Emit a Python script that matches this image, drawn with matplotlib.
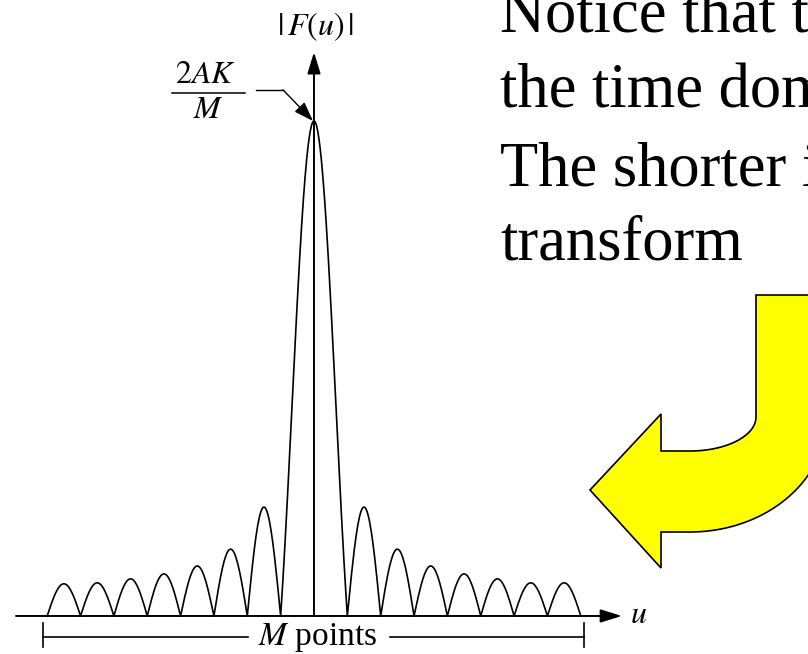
import numpy as np
import matplotlib
matplotlib.use('Agg')
import matplotlib.pyplot as plt
from matplotlib.patches import Polygon

plt.rcParams['mathtext.fontset'] = 'stix'
plt.rcParams['font.family'] = ['Liberation Serif', 'DejaVu Serif']

# |F(u)| heights, as a fraction of the central peak 2AK/M
peak = 1.0
# side lobes, one zero spacing (M/K) wide each
left_lobes = [0.065, 0.067, 0.075, 0.085, 0.101, 0.135, 0.220]   # outer -> centre
right_lobes = [0.220, 0.135, 0.101, 0.085, 0.075, 0.067, 0.067]  # centre -> outer

notes = ["Notice that th",
         "the time dom",
         "The shorter i",
         "transform"]

fig = plt.figure(figsize=(8.08, 6.54), dpi=100)

# decoration layer in pixel units (text + yellow arrow)
deco = fig.add_axes([0, 0, 1, 1])
deco.set_xlim(0, 808)
deco.set_ylim(654, 0)
deco.axis('off')

for line, yb in zip(notes, [32, 107, 185, 260]):
    deco.text(500, yb, line, fontsize=45, va='baseline', ha='left',
              family=['Liberation Serif'], clip_on=True)

th_in = np.linspace(0, np.pi / 2, 30)
th_out = np.linspace(np.pi / 2, 0, 40)
pts = [(756, 295)]
pts += list(zip(690 + 66 * np.cos(th_in), 417 + 34 * np.sin(th_in)))
pts += [(661, 451), (661, 414), (590, 490), (661, 568), (661, 532)]
pts += list(zip(690 + 137 * np.cos(th_out), 417 + 115 * np.sin(th_out)))
pts += [(827, 295)]
deco.add_patch(Polygon(pts, closed=True, facecolor='#FFFF00',
                       edgecolor='black', lw=1.2, clip_on=True))

# plot layer in u units
ax = fig.add_axes([0, 0, 1, 1])
ax.set_xlim(-9.415, 14.813)
ax.set_ylim(-0.0768, 1.2444)
ax.axis('off')
ax.patch.set_alpha(0)

t = np.linspace(0, 1, 40)
xs, ys = [], []
start = -(len(left_lobes) + 1)
for i, h in enumerate(left_lobes):
    xs.append(start + i + t)
    ys.append(h * np.sin(np.pi * t))
um = np.linspace(-1, 1, 121)
xs.append(um)
ys.append(peak * np.sinc(um))
for i, h in enumerate(right_lobes):
    xs.append(1 + i + t)
    ys.append(h * np.sin(np.pi * t))
ax.plot(np.concatenate(xs), np.concatenate(ys), color='black', lw=1.2)

# axes with arrow heads
axis_arrow = dict(arrowstyle='-|>,head_length=1.3,head_width=0.4',
                  mutation_scale=10, lw=1.4, color='black',
                  shrinkA=0, shrinkB=0)
ax.annotate('', xy=(9.235, 0), xytext=(-8.935, 0), arrowprops=axis_arrow)
ax.annotate('', xy=(0, 1.139), xytext=(0, 0), arrowprops=axis_arrow)
ax.text(0.06, 1.19, r'$|\,F(u)\,|$', fontsize=23, ha='center', va='center')
ax.text(9.72, 0.0, r'$u$', fontsize=23, ha='center', va='center')

# peak label 2AK/M with leader
ax.text(-3.27, 1.077, r'$2AK$', fontsize=23, ha='center', va='baseline')
ax.plot([-4.26, -2.07], [1.0566, 1.0566], color='black', lw=1.1)
ax.text(-3.18, 1.006, r'$M$', fontsize=23, ha='center', va='baseline')
ax.plot([-1.739, -0.93], [1.063, 1.063], color='black', lw=1.0)
ax.annotate('', xy=(-0.03, peak), xytext=(-0.93, 1.063),
            arrowprops=dict(arrowstyle='-|>,head_length=1.0,head_width=0.35',
                            mutation_scale=12, lw=1.0, color='black',
                            shrinkA=0, shrinkB=0))

# M points bracket
yb = -0.0424
ax.plot([-8.126, -8.126], [-0.0141, -0.0626], color='black', lw=1.2)
ax.plot([8.096, 8.096], [-0.0141, -0.0626], color='black', lw=1.2)
ax.plot([-8.126, -1.98], [yb, yb], color='black', lw=1.2)
ax.plot([2.28, 8.096], [yb, yb], color='black', lw=1.2)
ax.text(0.1, -0.0586, r'$M$ points', fontsize=24, ha='center', va='baseline',
        family=['Liberation Serif'])

fig.savefig('out.png', dpi=100)
